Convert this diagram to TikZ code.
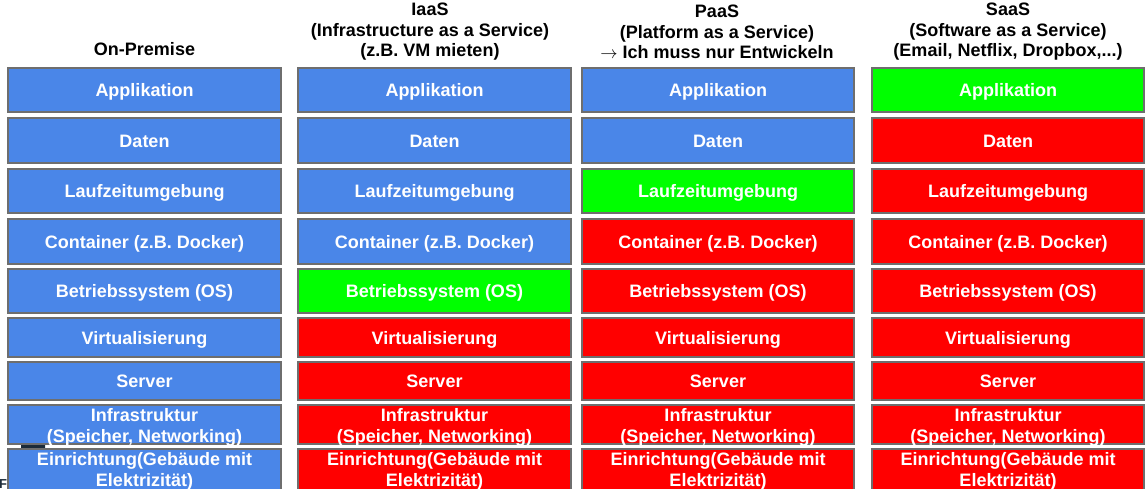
\documentclass[tikz,border=0pt]{standalone}
\usepackage{fontspec}
\setmainfont{Liberation Sans}
\definecolor{cblue}{HTML}{4A86E8}
\definecolor{cgreen}{HTML}{00FF00}
\definecolor{cred}{HTML}{FF0000}
\definecolor{cborder}{HTML}{6E6E6E}
\definecolor{cdark}{HTML}{1C2B39}
\begin{document}
\begin{tikzpicture}[x=1pt,y=-1pt,
  cell/.style={draw=cborder, line width=1.4pt, inner sep=0pt, minimum width=#1},
  cell/.default=273pt,
  lbl/.style={text=white, font=\fontsize{18}{21}\selectfont\bfseries, text height=16.3pt, text depth=3.3pt},
  lbl2/.style={text=white, font=\fontsize{18}{21}\selectfont\bfseries, align=center, inner sep=0pt},
  head/.style={text=black, font=\fontsize{18}{20.5}\selectfont\bfseries, align=center, inner sep=0pt},
  cb/.style={fill=cblue}, cg/.style={fill=cgreen}, cr/.style={fill=cred}]
\useasboundingbox (0,0) rectangle (1146,488);
\clip (0,0) rectangle (1146,488);
\fill[white] (0,0) rectangle (1146,488);

% partially hidden object at bottom left
\fill[white, rounded corners=3pt] (19,439) rectangle (47,472);
\fill[cdark, rounded corners=3pt] (21,441) rectangle (45,472);
\node[text=cdark, font=\fontsize{13}{13}\selectfont\bfseries, anchor=base west, inner sep=0pt] (fart) at (-1,488) {F};

% headers
\node[head] (h1) at (144.5,49) {On-Premise};
\node[head] (h2) at (430,32) {IaaS\\(Infrastructure as a Service)\\(z.B. VM mieten)};
\node[head] (h3) at (717,32) {PaaS\\(Platform as a Service)\\$\rightarrow$ Ich muss nur Entwickeln};
\node[head] (h4) at (1008,32) {SaaS\\(Software as a Service)\\(Email, Netflix, Dropbox,...)};

% column 1
\node[cell, cb, minimum height=44pt, lbl] (a1) at (144.5,90) {Applikation};
\node[cell, cb, minimum height=45pt, lbl] (a2) at (144.5,140.5) {Daten};
\node[cell, cb, minimum height=44pt, lbl] (a3) at (144.5,191) {Laufzeitumgebung};
\node[cell, cb, minimum height=45pt, lbl] (a4) at (144.5,241.5) {Container (z.B. Docker)};
\node[cell, cb, minimum height=44pt, lbl] (a5) at (144.5,291) {Betriebssystem (OS)};
\node[cell, cb, minimum height=39pt, lbl] (a6) at (144.5,337.5) {Virtualisierung};
\node[cell, cb, minimum height=38pt, lbl] (a7) at (144.5,381) {Server};
\node[cell, cb, minimum height=39pt] (a8) at (144.5,424.5) {};
\node[cell, cb, minimum height=52pt] (a9) at (144.5,475) {};
% column 2
\node[cell, cb, minimum height=44pt, lbl] (b1) at (434.5,90) {Applikation};
\node[cell, cb, minimum height=45pt, lbl] (b2) at (434.5,140.5) {Daten};
\node[cell, cb, minimum height=44pt, lbl] (b3) at (434.5,191) {Laufzeitumgebung};
\node[cell, cb, minimum height=45pt, lbl] (b4) at (434.5,241.5) {Container (z.B. Docker)};
\node[cell, cg, minimum height=44pt, lbl] (b5) at (434.5,291) {Betriebssystem (OS)};
\node[cell, cr, minimum height=39pt, lbl] (b6) at (434.5,337.5) {Virtualisierung};
\node[cell, cr, minimum height=38pt, lbl] (b7) at (434.5,381) {Server};
\node[cell, cr, minimum height=39pt] (b8) at (434.5,424.5) {};
\node[cell, cr, minimum height=52pt] (b9) at (434.5,475) {};
% column 3
\node[cell=272pt, cb, minimum height=44pt, lbl] (c1) at (718,90) {Applikation};
\node[cell=272pt, cb, minimum height=45pt, lbl] (c2) at (718,140.5) {Daten};
\node[cell=272pt, cg, minimum height=44pt, lbl] (c3) at (718,191) {Laufzeitumgebung};
\node[cell=272pt, cr, minimum height=45pt, lbl] (c4) at (718,241.5) {Container (z.B. Docker)};
\node[cell=272pt, cr, minimum height=44pt, lbl] (c5) at (718,291) {Betriebssystem (OS)};
\node[cell=272pt, cr, minimum height=39pt, lbl] (c6) at (718,337.5) {Virtualisierung};
\node[cell=272pt, cr, minimum height=38pt, lbl] (c7) at (718,381) {Server};
\node[cell=272pt, cr, minimum height=39pt] (c8) at (718,424.5) {};
\node[cell=272pt, cr, minimum height=52pt] (c9) at (718,475) {};
% column 4
\node[cell=272pt, cg, minimum height=44pt, lbl] (d1) at (1008,90) {Applikation};
\node[cell=272pt, cr, minimum height=45pt, lbl] (d2) at (1008,140.5) {Daten};
\node[cell=272pt, cr, minimum height=44pt, lbl] (d3) at (1008,191) {Laufzeitumgebung};
\node[cell=272pt, cr, minimum height=45pt, lbl] (d4) at (1008,241.5) {Container (z.B. Docker)};
\node[cell=272pt, cr, minimum height=44pt, lbl] (d5) at (1008,291) {Betriebssystem (OS)};
\node[cell=272pt, cr, minimum height=39pt, lbl] (d6) at (1008,337.5) {Virtualisierung};
\node[cell=272pt, cr, minimum height=38pt, lbl] (d7) at (1008,381) {Server};
\node[cell=272pt, cr, minimum height=39pt] (d8) at (1008,424.5) {};
\node[cell=272pt, cr, minimum height=52pt] (d9) at (1008,475) {};

% two-line labels
\foreach \n/\x in {a/144.5, b/434.5, c/718, d/1008}{
  \node[lbl2] (\n8t) at (\x,427) {Infrastruktur\\(Speicher, Networking)};
  \node[lbl2] (\n9t) at (\x,471.5) {Einrichtung(Gebäude mit\\Elektrizität)};
}
\end{tikzpicture}
\end{document}
